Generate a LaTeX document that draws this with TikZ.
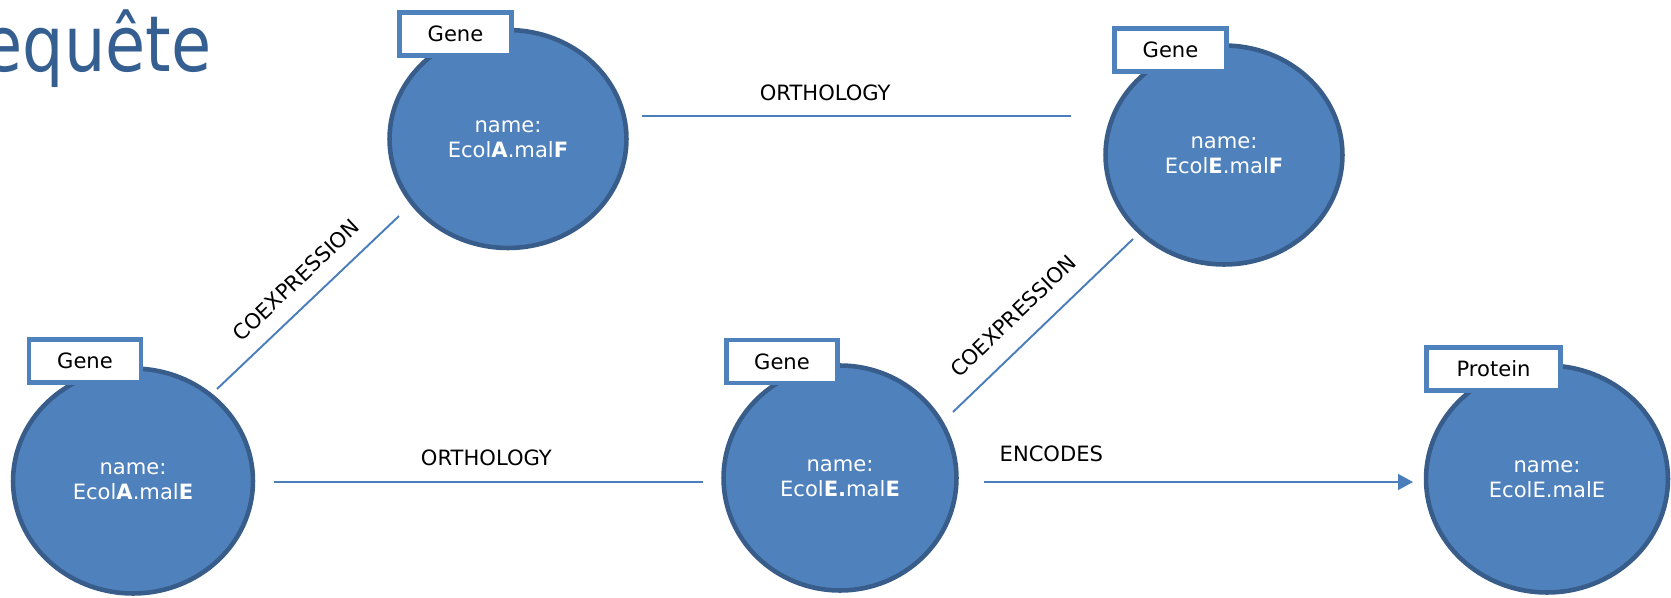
\documentclass[tikz,border=0pt]{standalone}
\usepackage{graphicx}
\usepackage{fontspec}
\setmainfont{DejaVu Sans}
\usetikzlibrary{shapes.geometric,arrows.meta}
\definecolor{nfill}{RGB}{79,129,189}
\definecolor{nborder}{RGB}{56,93,138}
\definecolor{eline}{RGB}{74,126,187}
\definecolor{ttl}{RGB}{54,95,145}
\tikzset{
  entity/.style={ellipse, fill=nfill, draw=nborder, line width=2.6pt, text=white,
    align=center, inner sep=0pt, font=\fontsize{12}{14.5}\selectfont},
  tagbox/.style={rectangle, fill=white, draw=nfill, line width=2.6pt,
    minimum height=0.86cm, inner sep=0pt, font=\fontsize{12}{14}\selectfont, text=black},
  edge/.style={draw=eline, line width=1.1pt},
  lbl/.style={font=\fontsize{12}{14}\selectfont, text=black, inner sep=0pt}
}
\begin{document}
\begin{tikzpicture}[x=0.02cm,y=-0.02cm]
\useasboundingbox (0,0) rectangle (1671,598);
\clip (0,0) rectangle (1671,598);

% title fragment
\node[anchor=base east, inner sep=0pt, text=ttl, font=\fontsize{44}{50}\selectfont] (title) at (212,72) {\scalebox{0.845}[1]{requête}};

% entities
\node[entity, minimum width=4.74cm, minimum height=4.36cm] (gAF) at (508,139) {name:\\Ecol\textbf{A}.mal\textbf{F}};
\node[entity, minimum width=4.74cm, minimum height=4.38cm] (gEF) at (1224,155) {name:\\Ecol\textbf{E}.mal\textbf{F}};
\node[entity, minimum width=4.80cm, minimum height=4.50cm] (gAE) at (133,481) {name:\\Ecol\textbf{A}.mal\textbf{E}};
\node[entity, minimum width=4.66cm, minimum height=4.50cm] (gEE) at (840,478) {name:\\Ecol\textbf{E.}mal\textbf{E}};
\node[entity, minimum width=4.84cm, minimum height=4.54cm] (pEE) at (1547,479) {name:\\EcolE.malE};

% tags
\node[tagbox, minimum width=2.24cm] (tAF) at (455.5,34) {Gene};
\node[tagbox, minimum width=2.24cm] (tEF) at (1170.5,50) {Gene};
\node[tagbox, minimum width=2.24cm] (tAE) at (85,361) {Gene};
\node[tagbox, minimum width=2.22cm] (tEE) at (782,361.5) {Gene};
\node[tagbox, minimum width=2.68cm] (tP) at (1493.5,369) {Protein};

% relationships
\draw[edge] ([shift={(134,-23)}]gAF.center) -- node[lbl, pos=0.427, above=8.1pt] (l1) {ORTHOLOGY} ([shift={(-153,-39)}]gEF.center);
\draw[edge] ([shift={(141,1)}]gAE.center) -- node[lbl, pos=0.495, above=8.6pt] (l2) {ORTHOLOGY} ([shift={(-137,4)}]gEE.center);
\draw[edge] ([shift={(84,-92)}]gAE.center) -- node[lbl, sloped, pos=0.527, above=8.8pt] (l3) {COEXPRESSION} ([shift={(-109,77)}]gAF.center);
\draw[edge] ([shift={(113,-66)}]gEE.center) -- node[lbl, sloped, pos=0.44, above=10.5pt] (l4) {COEXPRESSION} ([shift={(-91,84)}]gEF.center);
\draw[edge, -{Triangle[length=8.5pt, width=9pt]}] ([shift={(144,4)}]gEE.center) -- node[lbl, pos=0.157, above=10.9pt] (l5) {ENCODES} ([shift={(-134,3)}]pEE.center);
\end{tikzpicture}
\end{document}
